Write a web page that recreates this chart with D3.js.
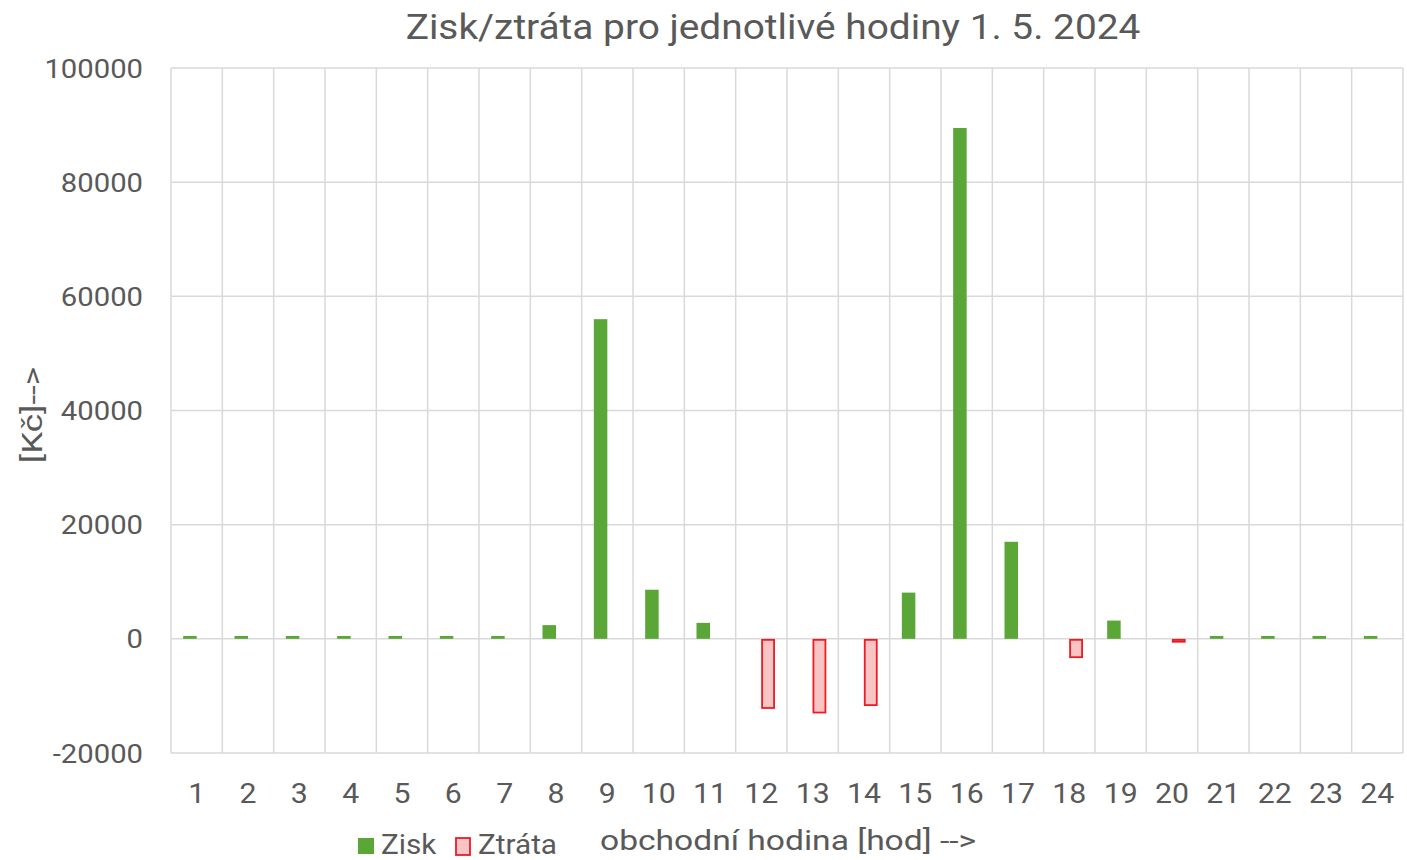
<!DOCTYPE html>
<html>
<head>
<meta charset="utf-8">
<script src="https://cdn.jsdelivr.net/npm/d3@7"></script>
<style>
  body { margin: 0; background: #fff; }
  svg text { font-family: Roboto, "Liberation Sans", sans-serif; fill: #595959; }
</style>
</head>
<body>
<div id="chart"></div>
<script>
// hodiny 1..24
const hours = d3.range(1, 25).map(String)
// zisk per hour [Kč]
const zisk = [500, 500, 500, 500, 500, 500, 500, 2400, 56000, 8600, 2800, 0,
              0, 0, 8100, 89500, 17000, 0, 3200, 0, 500, 500, 500, 500]
// ztrata per hour [Kč]
const ztrata = [0, 0, 0, 0, 0, 0, 0, 0, 0, 0, 0, -12200,
                -13000, -11700, 0, 0, 0, -3300, 0, -600, 0, 0, 0, 0]
const yTicks = [-20000, 0, 20000, 40000, 60000, 80000, 100000]
const seriesNames = ["Zisk", "Ztráta"]

const W = 1407, H = 860
const plot = {left: 171, right: 1403, top: 68, bottom: 753}

const svg = d3.select("#chart").append("svg")
    .attr("width", W)
    .attr("height", H)

const x = d3.scaleBand()
    .domain(hours)
    .range([plot.left, plot.right])
    .paddingInner(0)
    .paddingOuter(0)

const y = d3.scaleLinear()
    .domain([-20000, 100000])
    .range([plot.bottom, plot.top])

// inner band for the 2 series, bars meet at category centre
const xSub = d3.scaleBand()
    .domain(seriesNames)
    .range([x.bandwidth()/2 - 13.5, x.bandwidth()/2 + 13.5])

// gridlines
svg.append("g")
    .selectAll("line")
    .data(yTicks)
    .join("line")
    .attr("x1", plot.left).attr("x2", plot.right)
    .attr("y1", d => y(d)).attr("y2", d => y(d))
    .attr("stroke", "#d9d9d9")
    .attr("stroke-width", 1.5)

svg.append("g")
    .selectAll("line")
    .data(hours.concat(["end"]))
    .join("line")
    .attr("x1", (d, i) => plot.left + i * x.step())
    .attr("x2", (d, i) => plot.left + i * x.step())
    .attr("y1", plot.top).attr("y2", plot.bottom)
    .attr("stroke", "#d9d9d9")
    .attr("stroke-width", 1.5)

// zisk bars
svg.append("g")
    .selectAll("rect")
    .data(zisk)
    .join("rect")
    .attr("x", (d, i) => x(hours[i]) + xSub("Zisk"))
    .attr("width", xSub.bandwidth())
    .attr("y", d => y(Math.max(0, d)))
    .attr("height", d => Math.abs(y(d) - y(0)))
    .attr("fill", "#5aa637")

// ztrata bars
svg.append("g")
    .selectAll("rect")
    .data(ztrata.map((v, i) => ({v, i})).filter(d => d.v !== 0))
    .join("rect")
    .attr("x", d => x(hours[d.i]) + xSub("Ztráta") + 0.75)
    .attr("width", xSub.bandwidth() - 1.5)
    .attr("y", y(0) + 1)
    .attr("height", d => Math.max(0.5, y(d.v) - y(0) - 1.5))
    .attr("fill", "#f9c4c4")
    .attr("stroke", "#ec1c24")
    .attr("stroke-width", 1.8)

// y axis labels (text is a bit wider in the original, hence the scale)
const yAxis = svg.append("g")
    .attr("transform", `translate(${plot.left},0)`)
    .call(d3.axisLeft(y).tickValues(yTicks).tickSize(0).tickFormat(d => String(d)))
yAxis.select(".domain").remove()
yAxis.selectAll("text")
    .attr("x", 0)
    .attr("dy", "0.36em")
    .attr("transform", "translate(-28,0) scale(1.17,1)")
    .style("font-size", "25px")

// x axis labels
const xAxis = svg.append("g")
    .attr("transform", `translate(0,${plot.bottom})`)
    .call(d3.axisBottom(x).tickSize(0))
xAxis.select(".domain").remove()
xAxis.selectAll("text")
    .attr("y", 0)
    .attr("dy", 0)
    .attr("transform", "translate(0,50) scale(1.12,1)")
    .style("font-size", "27px")

// title
svg.append("text")
    .attr("transform", "translate(773,39) scale(1.11,1)")
    .attr("text-anchor", "middle")
    .style("font-size", "35px")
    .text("Zisk/ztráta pro jednotlivé hodiny 1. 5. 2024")

// y axis title
svg.append("text")
    .attr("transform", "translate(42,415) rotate(-90) scale(1.3,1)")
    .attr("text-anchor", "middle")
    .style("font-size", "27px")
    .text("[Kč]-->")

// legend
const leg = svg.append("g")
leg.append("rect")
    .attr("x", 358).attr("y", 838).attr("width", 16).attr("height", 16)
    .attr("fill", "#5aa637")
leg.append("text")
    .attr("transform", "translate(381,854) scale(1.1,1)")
    .style("font-size", "27px")
    .text(seriesNames[0])
leg.append("rect")
    .attr("x", 456).attr("y", 838).attr("width", 14).attr("height", 17)
    .attr("fill", "#f9c4c4").attr("stroke", "#ec1c24").attr("stroke-width", 1.8)
leg.append("text")
    .attr("transform", "translate(478,854) scale(1.1,1)")
    .style("font-size", "27px")
    .text(seriesNames[1])

// x axis title
svg.append("text")
    .attr("transform", "translate(600,850) scale(1.2,1)")
    .style("font-size", "28px")
    .text("obchodní hodina [hod] -->")
</script>
</body>
</html>
